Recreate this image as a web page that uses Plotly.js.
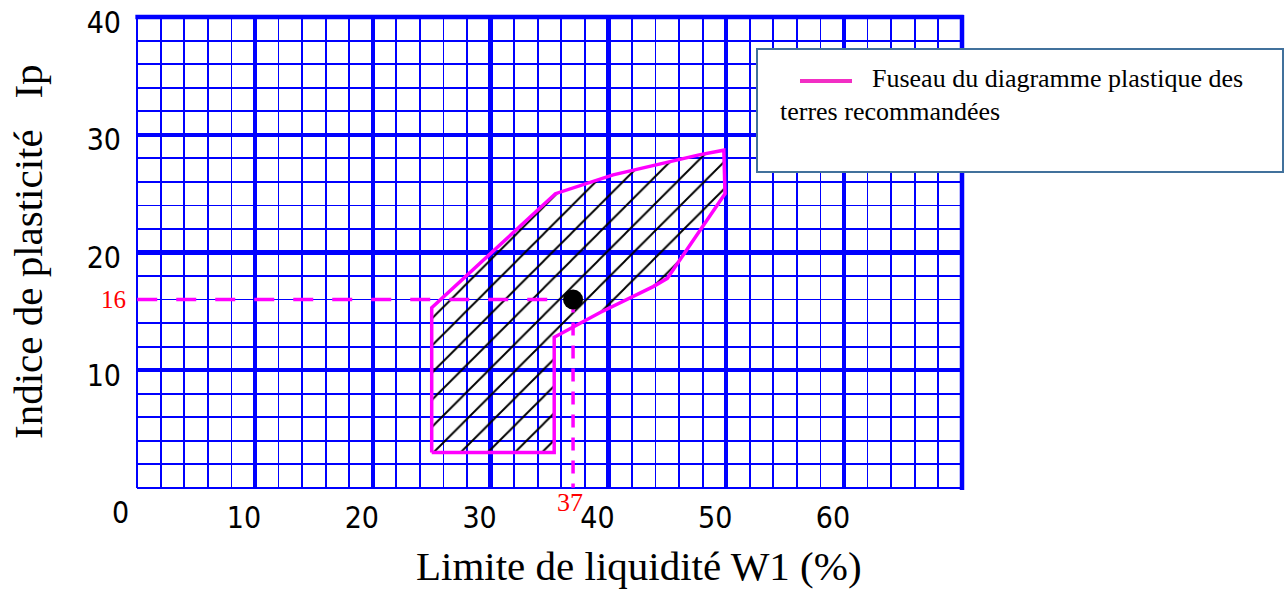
<!DOCTYPE html>
<html>
<head>
<meta charset="utf-8">
<script src="https://cdn.plot.ly/plotly-3.0.1.min.js"></script>
<style>
html,body{margin:0;padding:0;background:#fff;}
#chart{width:1286px;height:590px;}
</style>
</head>
<body>
<div id="chart"></div>
<script>
// Fuseau (zone) du diagramme plastique : Limite de liquidité W1 (%) vs Indice de plasticité Ip
var fuseauW  = [25, 25,   35.5, 40.4, 47.7, 49.8, 49.9, 45,   43.8, 39.3, 35.4, 35.4, 25];
var fuseauIp = [3,  15.3, 25,   26.6, 28.3, 28.7, 25,   17.8, 17.1, 14.9, 12.8, 3,    3];

// Sample point
var sampleW  = [37];
var sampleIp = [16];

// Tick labels
var xTickVals = [10, 20, 30, 40, 50, 60, 70];
var xTickText = ['10', '20', '30', '40', '50', '60', ''];
var yTickVals = [10, 20, 30, 40];
var yTickText = ['10', '20', '30', '40'];

var legendText1 = 'Fuseau du diagramme plastique des';
var legendText2 = 'terres recommandées';
var xTitle = 'Limite de liquidité W1 (%)';
var yTitle = 'Indice de plasticité   Ip';

var magenta = '#FF00FF';
var blue = '#0000FF';
var serif = 'Liberation Serif, Times New Roman, serif';
var tickFont = 'DejaVu Sans Condensed, DejaVu Sans, sans-serif';

var traces = [
  {
    x: fuseauW, y: fuseauIp, type: 'scatter', mode: 'lines',
    line: {color: magenta, width: 3.5},
    fill: 'toself', fillcolor: 'rgba(0,0,0,0)',
    fillpattern: {shape: '/', size: 19.17, solidity: 0.1, fgcolor: '#000000', bgcolor: 'rgba(255,255,255,0)', fillmode: 'replace'},
    hoverinfo: 'skip', showlegend: false
  },
  {
    x: [0, sampleW[0]], y: [sampleIp[0], sampleIp[0]], type: 'scatter', mode: 'lines',
    line: {color: magenta, width: 3.5, dash: '20px,19px'},
    hoverinfo: 'skip', showlegend: false
  },
  {
    x: [sampleW[0], sampleW[0]], y: [sampleIp[0], 0], type: 'scatter', mode: 'lines',
    line: {color: magenta, width: 3.5, dash: '13px,10px'},
    hoverinfo: 'skip', showlegend: false, cliponaxis: false
  },
  {
    x: sampleW, y: sampleIp, type: 'scatter', mode: 'markers',
    marker: {color: '#000000', size: 20},
    hoverinfo: 'skip', showlegend: false
  }
];

var L = 137, R = 324, T = 17, B = 102;
var PW = 1286 - L - R, PH = 590 - T - B;
function px(x){ return (x - L) / PW; }
function py(y){ return (590 - B - y) / PH; }

var layout = {
  width: 1286, height: 590,
  margin: {l: L, r: R, t: T, b: B, pad: 0},
  paper_bgcolor: '#ffffff', plot_bgcolor: '#ffffff',
  showlegend: false,
  xaxis: {
    range: [-0.02, 70.02], fixedrange: true,
    tickmode: 'array', tickvals: xTickVals, ticktext: xTickText,
    showgrid: true, gridcolor: blue, gridwidth: 4.5,
    zeroline: false, showline: false, ticks: '',
    ticklabelstandoff: 9, ticklabelshift: -11,
    tickfont: {family: tickFont, size: 30, color: '#000'},
    minor: {tickmode: 'linear', tick0: 0, dtick: 2, showgrid: true, gridcolor: blue, gridwidth: 1.8}
  },
  yaxis: {
    range: [-0.02, 40.02], fixedrange: true,
    tickmode: 'array', tickvals: yTickVals, ticktext: yTickText,
    showgrid: true, gridcolor: blue, gridwidth: 4.5,
    zeroline: false, showline: false, ticks: '',
    ticklabelstandoff: 15, ticklabelshift: 5,
    tickfont: {family: tickFont, size: 30, color: '#000'},
    minor: {tickmode: 'linear', tick0: 0, dtick: 2, showgrid: true, gridcolor: blue, gridwidth: 1.8}
  },
  shapes: [
    // plot frame: thin left/bottom, thick top/right
    {type: 'line', xref: 'paper', yref: 'paper', x0: 0, x1: 0, y0: 0, y1: 1, line: {color: blue, width: 2}, layer: 'between'},
    {type: 'line', xref: 'paper', yref: 'paper', x0: 0, x1: 1, y0: 0, y1: 0, line: {color: blue, width: 2}, layer: 'between'},
    {type: 'line', xref: 'paper', yref: 'paper', x0: -0.002, x1: 1.002, y0: 1, y1: 1, line: {color: blue, width: 4.5}, layer: 'between'},
    {type: 'line', xref: 'paper', yref: 'paper', x0: 1, x1: 1, y0: -0.004, y1: 1.004, line: {color: blue, width: 4.5}, layer: 'between'},
    // legend box
    {type: 'rect', xref: 'paper', yref: 'paper', x0: px(757), x1: px(1283), y0: py(172), y1: py(49),
     line: {color: '#41719C', width: 2}, fillcolor: '#ffffff', layer: 'above'},
    {type: 'line', xref: 'paper', yref: 'paper', x0: px(800), x1: px(852), y0: py(81), y1: py(81),
     line: {color: '#F22EC4', width: 4}, layer: 'above'}
  ],
  annotations: [
    {text: xTitle, xref: 'paper', yref: 'paper', x: px(639), y: py(566), xanchor: 'center', yanchor: 'middle',
     showarrow: false, font: {family: serif, size: 41, color: '#000'}},
    {text: yTitle, xref: 'paper', yref: 'paper', x: px(28), y: py(252), xanchor: 'center', yanchor: 'middle',
     textangle: -90, showarrow: false, font: {family: serif, size: 41, color: '#000'}},
    {text: '0', xref: 'paper', yref: 'paper', x: px(120), y: py(512), xanchor: 'center', yanchor: 'middle',
     showarrow: false, font: {family: tickFont, size: 30, color: '#000'}},
    {text: String(sampleIp[0]), xref: 'paper', yref: 'y', x: px(113), y: sampleIp[0], xanchor: 'center', yanchor: 'middle',
     showarrow: false, font: {family: serif, size: 25, color: '#FF0000'}},
    {text: String(sampleW[0]), xref: 'x', yref: 'paper', x: sampleW[0], xshift: -3, y: py(502), xanchor: 'center', yanchor: 'middle',
     showarrow: false, font: {family: serif, size: 26, color: '#FF0000'}},
    {text: legendText1, xref: 'paper', yref: 'paper', x: px(870), y: py(79), xanchor: 'left', yanchor: 'middle',
     showarrow: false, font: {family: serif, size: 26, color: '#000'}},
    {text: legendText2, xref: 'paper', yref: 'paper', x: px(778), y: py(112), xanchor: 'left', yanchor: 'middle',
     showarrow: false, font: {family: serif, size: 26, color: '#000'}}
  ]
};

Plotly.newPlot('chart', traces, layout, {displayModeBar: false, staticPlot: true});
</script>
</body>
</html>
